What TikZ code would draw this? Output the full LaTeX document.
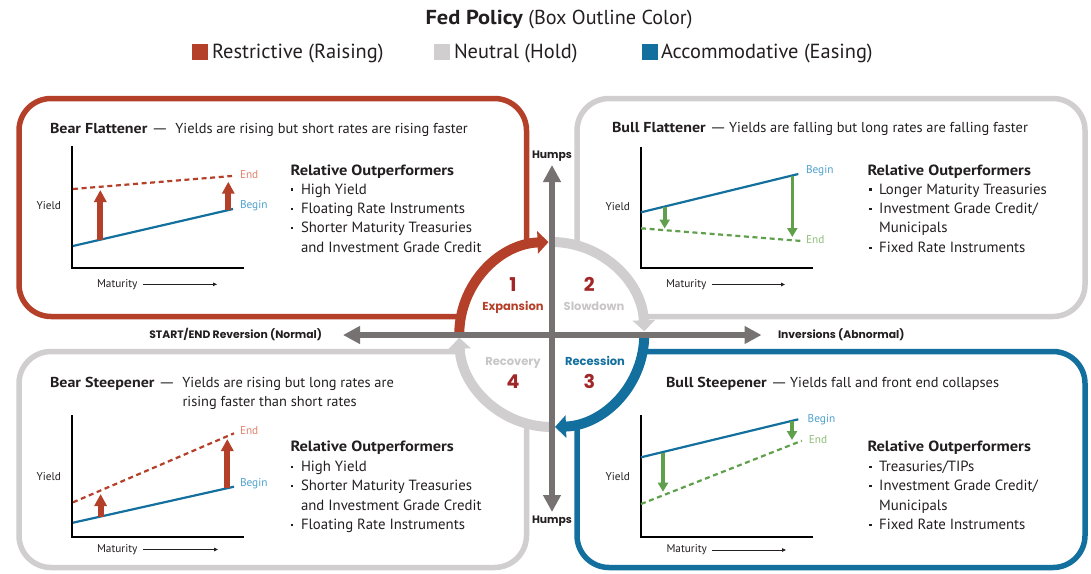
\documentclass[tikz,border=0pt]{standalone}
\usepackage{fontspec}
\usepackage{graphicx}
\setmainfont{PT Sans}[BoldFeatures={FakeStretch=1.11}]
\newfontfamily\gfont{Poppins}
\usetikzlibrary{arrows.meta}
\definecolor{cred}{RGB}{181,64,42}
\definecolor{cgray}{RGB}{208,206,206}
\definecolor{cblue}{RGB}{19,112,158}
\definecolor{caxis}{RGB}{118,114,114}
\definecolor{cgreen}{RGB}{96,160,76}
\definecolor{cnum}{RGB}{160,38,40}
\definecolor{cendred}{RGB}{222,128,108}
\definecolor{cbegin}{RGB}{78,160,206}
\definecolor{cendgreen}{RGB}{140,190,120}
\definecolor{ctext}{RGB}{35,31,32}
\definecolor{clabgray}{RGB}{200,198,198}
\newcommand\bdot{\makebox[10.2pt][l]{\hspace*{0.3pt}\raisebox{3.4pt}{\rule{2.2pt}{2.2pt}}}}
\newcommand\emd{\scalebox{1.45}[1]{—}}
\tikzset{
  box/.style={line width=5.5pt, rounded corners=32pt},
  cyc/.style={line width=10pt},
  cycarrow/.style={-{Triangle[length=11pt,width=22pt]}},
  axarrow/.style={line width=6pt, draw=caxis, {Triangle[length=17pt,width=17pt]}-{Triangle[length=17pt,width=17pt]}},
  chartax/.style={line width=2pt, draw=black},
  curve/.style={line width=2.2pt},
  dashline/.style={line width=2.2pt, dash pattern=on 5pt off 3.6pt},
  uparrow/.style={line width=6pt, draw=cred, -{Triangle[length=12pt,width=12pt]}},
  downarrow/.style={line width=3.6pt, draw=cgreen, -{Triangle[length=9pt,width=10pt]}},
  matarrow/.style={line width=0.8pt, draw=ctext, -{Triangle[length=4pt,width=3.5pt]}},
  txt/.style={inner sep=0pt, outer sep=0pt, text=ctext, anchor=base west, font=\fontsize{14.8}{17}\selectfont},
  ttl/.style={txt, font=\fontsize{14.4}{17}\selectfont},
  small/.style={inner sep=0pt, outer sep=0pt, text=ctext, font=\fontsize{11.3}{13}\selectfont},
  glab/.style={inner sep=0pt, outer sep=0pt, text=ctext, font=\gfont\bfseries\fontsize{10.8}{12}\selectfont},
  cyclab/.style={inner sep=0pt, outer sep=0pt, anchor=base, font=\gfont\bfseries\fontsize{11.5}{13}\selectfont},
  numlab/.style={inner sep=0pt, outer sep=0pt, anchor=base, text=cnum, font=\gfont\bfseries\fontsize{19}{21}\selectfont},
  legtxt/.style={inner sep=0pt, outer sep=0pt, text=ctext, anchor=base west, font=\fontsize{20.4}{23}\selectfont},
}
\begin{document}
\begin{tikzpicture}[x=1pt,y=1pt,yscale=-1]
\useasboundingbox (0,0) rectangle (1091,573);

% ---------- header and legend ----------
\node[legtxt, anchor=base, font=\fontsize{20.2}{23}\selectfont] (hdr) at (559,24.5) {\textbf{Fed Policy} (Box Outline Color)};
\fill[cred] (191.5,44) rectangle (207.5,60);
\node[legtxt] (legr) at (212,58.5) {Restrictive (Raising)};
\fill[cgray] (434,44) rectangle (450,60);
\node[legtxt] (legg) at (454,58.5) {Neutral (Hold)};
\fill[cblue] (641.5,44) rectangle (657.5,60);
\node[legtxt] (legb) at (661,58.5) {Accommodative (Easing)};

% ---------- box outlines ----------
\draw[box, draw=cred] (461,316.5) -- (19,316.5) -- (19,98.5) -- (526.5,98.5) -- (526.5,245.5);
\draw[box, draw=cgray] (577,245.5) -- (577,98.5) -- (1085,98.5) -- (1085,316.5) -- (642.5,316.5);
\draw[box, draw=cgray] (460.8,351.5) -- (19,351.5) -- (19,567.5) -- (526.5,567.5) -- (526.5,423.5);
\draw[box, draw=cblue] (642.7,351.5) -- (1085,351.5) -- (1085,567.5) -- (577,567.5) -- (577,423.5);

% ---------- cycle ----------
\coordinate (cc) at (551.75,334.5);
\draw[cyc, cycarrow, draw=cred] (459.25,334.5) arc[start angle=180, end angle=268, radius=92.5];
\draw[cyc, cycarrow, draw=cgray] (551.75,242) arc[start angle=270, end angle=358, radius=92.5];
\draw[cyc, cycarrow, draw=cblue] (644.25,334.5) arc[start angle=0, end angle=88, radius=92.5];
\draw[cyc, cycarrow, draw=cgray] (551.75,427) arc[start angle=90, end angle=178, radius=92.5];

% ---------- axes ----------
\coordinate (hl) at (343,335);
\coordinate (hr) at (761.5,335);
\coordinate (vt) at (552,165);
\coordinate (vb) at (552,512);
\draw[axarrow] (hl) -- (hr);
\draw[axarrow] (vt) -- (vb);
\node[glab, anchor=base] (humpsT) at (552,158.5) {Humps};
\node[glab, anchor=base] (humpsB) at (552,523) {Humps};
\node[glab, anchor=base east] (normal) at (322,338.8) {START/END Reversion (Normal)};
\node[glab, anchor=base west] (abnormal) at (778,338.3) {Inversions (Abnormal)};

% cycle labels
\node[numlab] (n1) at (513,291.5) {1};
\node[cyclab, text=cred] (l1) at (513,310) {Expansion};
\node[numlab] (n2) at (589.3,291.5) {2};
\node[cyclab, text=clabgray] (l2) at (594,310) {Slowdown};
\node[cyclab, text=clabgray] (l4) at (513,365) {Recovery};
\node[numlab] (n4) at (513,388.5) {4};
\node[cyclab, text=cblue] (l3) at (595,365) {Recession};
\node[numlab] (n3) at (589.3,388.5) {3};

% ---------- top-left: Bear Flattener ----------
\node[ttl] (tlt) at (50,133) {\textbf{Bear Flattener} \emd\hspace{7pt}Yields are rising but short rates are rising faster};
\draw[chartax] (72,146) -- (72,268) -- (244,268);
\coordinate (tlb1) at (73,246); \coordinate (tlb2) at (233,209);
\coordinate (tle1) at (73,189); \coordinate (tle2) at (232,176);
\draw[curve, draw=cblue] (tlb1) -- (tlb2);
\draw[dashline, draw=cred] (tle1) -- (tle2);
\coordinate (tla1) at (100.3,240); \coordinate (tla2) at (100.3,190);
\coordinate (tla3) at (228.3,210); \coordinate (tla4) at (228.3,181.7);
\draw[uparrow] (tla1) -- (tla2);
\draw[uparrow] (tla3) -- (tla4);
\node[small, anchor=west, text=cendred] (tlend) at (240,175) {End};
\node[small, anchor=west, text=cbegin] (tlbeg) at (240,206) {Begin};
\node[small, anchor=east] (tly) at (61,206) {Yield};
\node[small, anchor=west] (tlm) at (97,284.3) {Maturity};
\coordinate (tlm2) at (217,284.3);
\draw[matarrow] (tlm.east) ++(5.5,0) coordinate (tlm1) -- (tlm2);
\node[txt] (tlro) at (290.7,175) {\textbf{Relative Outperformers}};
\node[txt] (tl1) at (290.8,194) {\bdot High Yield};
\node[txt] (tl2) at (290.8,213.4) {\bdot Floating Rate Instruments};
\node[txt] (tl3) at (290.8,232.8) {\bdot Shorter Maturity Treasuries};
\node[txt] (tl4) at (301,252.2) {and Investment Grade Credit};

% ---------- top-right: Bull Flattener ----------
\node[ttl] (trt) at (612,132.5) {\textbf{Bull Flattener} \emd\,Yields are falling but long rates are falling faster};
\draw[chartax] (641,147) -- (641,268) -- (813,268);
\coordinate (trb1) at (641,212.3); \coordinate (trb2) at (798.3,174);
\coordinate (tre1) at (641,228.3); \coordinate (tre2) at (801.8,241);
\draw[curve, draw=cblue] (trb1) -- (trb2);
\draw[dashline, draw=cgreen] (tre1) -- (tre2);
\coordinate (tra1) at (664.7,206.5); \coordinate (tra2) at (664.7,228.5);
\coordinate (tra3) at (792.3,175.5); \coordinate (tra4) at (792.3,237);
\draw[downarrow] (tra1) -- (tra2);
\draw[downarrow] (tra3) -- (tra4);
\node[small, anchor=west, text=cbegin] (trbeg) at (806,171) {Begin};
\node[small, anchor=west, text=cendgreen] (trend) at (806,240) {End};
\node[small, anchor=east] (try) at (630,207) {Yield};
\node[small, anchor=west] (trm) at (666,284.5) {Maturity};
\coordinate (trm2) at (785,284.5);
\draw[matarrow] (trm.east) ++(5.5,0) coordinate (trm1) -- (trm2);
\node[txt] (trro) at (867.5,175) {\textbf{Relative Outperformers}};
\node[txt] (tr1) at (869,194) {\bdot Longer Maturity Treasuries};
\node[txt] (tr2) at (869,213.4) {\bdot Investment Grade Credit/};
\node[txt] (tr3) at (879.2,232.8) {Municipals};
\node[txt] (tr4) at (869,252.2) {\bdot Fixed Rate Instruments};

% ---------- bottom-left: Bear Steepener ----------
\node[ttl] (blt1) at (50,387) {\textbf{Bear Steepener} \emd\hspace{7pt}Yields are rising but long rates are};
\node[ttl] (blt2) at (182.5,406.5) {rising faster than short rates};
\draw[chartax] (72,415) -- (72,537) -- (244,537);
\coordinate (blb1) at (73,522.7); \coordinate (blb2) at (234,486.7);
\coordinate (ble1) at (73,502.3); \coordinate (ble2) at (234,433.3);
\draw[curve, draw=cblue] (blb1) -- (blb2);
\draw[dashline, draw=cred] (ble1) -- (ble2);
\coordinate (bla1) at (100.6,516.5); \coordinate (bla2) at (100.6,494);
\coordinate (bla3) at (227.3,488); \coordinate (bla4) at (227.3,439);
\draw[uparrow] (bla1) -- (bla2);
\draw[uparrow] (bla3) -- (bla4);
\node[small, anchor=west, text=cendred] (blend) at (240,431) {End};
\node[small, anchor=west, text=cbegin] (blbeg) at (240,483.3) {Begin};
\node[small, anchor=east] (bly) at (61,476.7) {Yield};
\node[small, anchor=west] (blm) at (97,549.5) {Maturity};
\coordinate (blm2) at (218,549.5);
\draw[matarrow] (blm.east) ++(5.5,0) coordinate (blm1) -- (blm2);
\node[txt] (blro) at (290.5,451.5) {\textbf{Relative Outperformers}};
\node[txt] (bl1) at (290.8,471.3) {\bdot High Yield};
\node[txt] (bl2) at (290.8,490.7) {\bdot Shorter Maturity Treasuries};
\node[txt] (bl3) at (301,510.1) {and Investment Grade Credit};
\node[txt] (bl4) at (290.8,529.5) {\bdot Floating Rate Instruments};

% ---------- bottom-right: Bull Steepener ----------
\node[ttl] (brt) at (666,387) {\textbf{Bull Steepener} \emd\,Yields fall and front end collapses};
\draw[chartax] (641,415) -- (641,537) -- (813,537);
\coordinate (brb1) at (641,457.3); \coordinate (brb2) at (798.3,419.3);
\coordinate (bre1) at (641,504); \coordinate (bre2) at (801.8,440.7);
\draw[curve, draw=cblue] (brb1) -- (brb2);
\draw[dashline, draw=cgreen] (bre1) -- (bre2);
\coordinate (bra1) at (663,453); \coordinate (bra2) at (663,491.7);
\coordinate (bra3) at (792,421); \coordinate (bra4) at (792,440);
\draw[downarrow] (bra1) -- (bra2);
\draw[downarrow] (bra3) -- (bra4);
\node[small, anchor=west, text=cbegin] (brbeg) at (807.7,419.3) {Begin};
\node[small, anchor=west, text=cendgreen] (brend) at (808.8,440) {End};
\node[small, anchor=east] (bry) at (630,476.7) {Yield};
\node[small, anchor=west] (brm) at (666.5,550) {Maturity};
\coordinate (brm2) at (786,550);
\draw[matarrow] (brm.east) ++(5.5,0) coordinate (brm1) -- (brm2);
\node[txt] (brro) at (867.5,451.5) {\textbf{Relative Outperformers}};
\node[txt] (br1) at (869,471.3) {\bdot Treasuries/TIPs};
\node[txt] (br2) at (869,490.7) {\bdot Investment Grade Credit/};
\node[txt] (br3) at (879.2,510.1) {Municipals};
\node[txt] (br4) at (869,529.5) {\bdot Fixed Rate Instruments};
\end{tikzpicture}
\end{document}
